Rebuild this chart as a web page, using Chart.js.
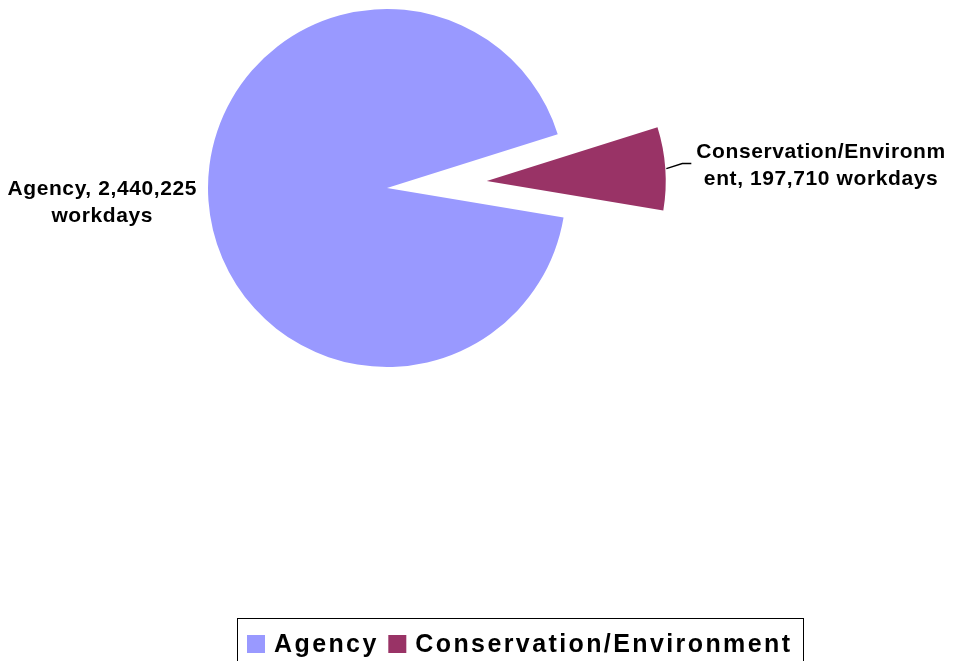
<!DOCTYPE html>
<html>
<head>
<meta charset="utf-8">
<script src="https://cdn.jsdelivr.net/npm/chart.js@4/dist/chart.umd.min.js"></script>
<style>
html, body { margin: 0; padding: 0; background: #ffffff; }
#wrap { width: 956px; height: 661px; position: relative; overflow: hidden; }
canvas { display: block; }
</style>
</head>
<body>
<div id="wrap"><canvas id="c" width="956" height="661"></canvas></div>
<script>
// ---- data ----
const categories = ['Agency', 'Conservation/Environment'];
const workdays = [2440225, 197710];
const unitLabel = 'workdays';
const labelBreakAt = [17, 21];   // where Excel wrapped each data label
const sliceColors = ['#9999FF', '#993366'];

// ---- style constants ----
const FONT = "'Liberation Sans', Arial, sans-serif";
const EXPLODE = [0, 100];

const labelText = categories.map((c, i) => c + ', ' + workdays[i].toLocaleString('en-US') + ' ' + unitLabel);
const labelLines = labelText.map((t, i) => [t.slice(0, labelBreakAt[i]).trim(), t.slice(labelBreakAt[i]).trim()]);

// move exploded slices outward along their mid angle (same radius & angles)
const explodePlugin = {
  id: 'explode',
  afterDatasetsUpdate(chart) {
    const meta = chart.getDatasetMeta(0);
    meta.data.forEach((arc, i) => {
      const d = EXPLODE[i] || 0;
      if (!d) return;
      const mid = (arc.startAngle + arc.endAngle) / 2;
      arc.x += Math.cos(mid) * d;
      arc.y += Math.sin(mid) * d;
    });
  }
};

function drawCenteredLine(ctx, text, cx, y, spacing) {
  const w = ctx.measureText(text).width - spacing;
  ctx.textAlign = 'left';
  ctx.fillText(text, cx - w / 2, y);
}

const labelPlugin = {
  id: 'pieLabels',
  afterDatasetsDraw(chart) {
    const ctx = chart.ctx;
    const meta = chart.getDatasetMeta(0);
    const sp = 0.6;
    ctx.save();
    ctx.font = 'bold 21px ' + FONT;
    ctx.letterSpacing = sp + 'px';
    ctx.fillStyle = '#000000';
    ctx.textBaseline = 'alphabetic';
    const lh = 27;
    meta.data.forEach((arc, i) => {
      const mid = (arc.startAngle + arc.endAngle) / 2;
      const cos = Math.cos(mid), sin = Math.sin(mid);
      const R = arc.outerRadius;
      const lines = labelLines[i];
      const bw = Math.max(...lines.map(l => ctx.measureText(l).width - sp));
      let cx, cy;
      if (i === 0) {
        const ax = arc.x + cos * (R + 12);
        const ay = arc.y + sin * (R + 12);
        cx = ax - bw / 2;
        cy = ay;
      } else {
        const p0x = arc.x + cos * (R + 1), p0y = arc.y + sin * (R + 1);
        const p1x = p0x + 16, p1y = p0y - 5;
        const p2x = p1x + 9, p2y = p1y;
        ctx.save();
        ctx.strokeStyle = '#000000';
        ctx.lineWidth = 1.3;
        ctx.beginPath();
        ctx.moveTo(p0x, p0y);
        ctx.lineTo(p1x, p1y);
        ctx.lineTo(p2x, p2y);
        ctx.stroke();
        ctx.restore();
        cx = p2x + 5 + bw / 2;
        cy = p2y + 1;
      }
      // baseline of first line so that the block is vertically centred on cy
      const firstBase = cy - (lines.length - 1) * lh / 2 + 7;
      lines.forEach((l, k) => drawCenteredLine(ctx, l, cx, firstBase + k * lh, sp));
    });
    ctx.restore();
  }
};

const legendPlugin = {
  id: 'boxLegend',
  afterDraw(chart) {
    const ctx = chart.ctx;
    ctx.save();
    const sp = 2.4;
    ctx.font = 'bold 25px ' + FONT;
    ctx.letterSpacing = sp + 'px';
    ctx.textBaseline = 'alphabetic';
    ctx.textAlign = 'left';
    const boxLeft = 237, boxTop = 618;
    let x = boxLeft + 10;
    const sq = 18, sqTop = 635, baseY = 652;
    chart.data.labels.forEach((lab, i) => {
      ctx.fillStyle = chart.data.datasets[0].backgroundColor[i];
      ctx.fillRect(x, sqTop, sq, sq);
      x += sq + 9;
      ctx.fillStyle = '#000000';
      ctx.fillText(lab, x, baseY);
      x += ctx.measureText(lab).width - sp + 12;
    });
    const boxRight = x + 1;
    ctx.strokeStyle = '#000000';
    ctx.lineWidth = 1;
    ctx.strokeRect(boxLeft + 0.5, boxTop + 0.5, boxRight - boxLeft, 60);
    ctx.restore();
  }
};

new Chart(document.getElementById('c'), {
  type: 'pie',
  data: {
    labels: categories,
    datasets: [{
      data: workdays,
      backgroundColor: sliceColors,
      borderWidth: 0,
      hoverOffset: 0,
      clip: false
    }]
  },
  options: {
    responsive: false,
    animation: false,
    events: [],
    rotation: 99.5,
    radius: 179,
    layout: { padding: { left: 0, right: 182, top: 9, bottom: 294 } },
    plugins: {
      legend: { display: false },
      tooltip: { enabled: false }
    }
  },
  plugins: [explodePlugin, labelPlugin, legendPlugin]
});
</script>
</body>
</html>
